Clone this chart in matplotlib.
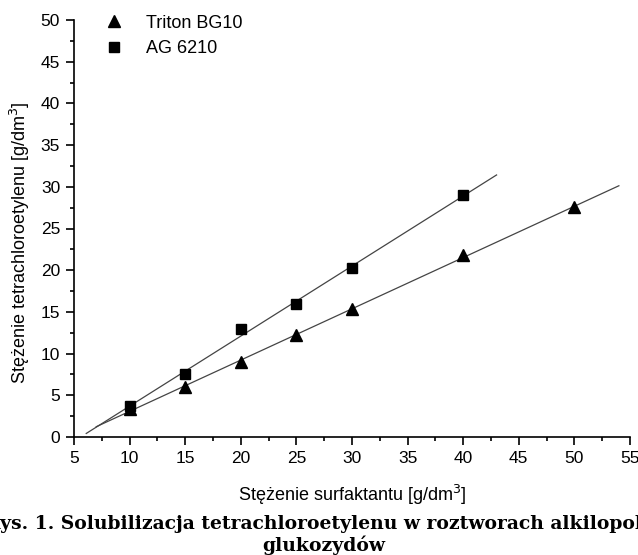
import numpy as np
import matplotlib
matplotlib.use("Agg")
import matplotlib.pyplot as plt
from matplotlib.ticker import MultipleLocator

# Data
triton_x = [10, 15, 20, 25, 30, 40, 50]
triton_y = [3.4, 6.0, 9.0, 12.2, 15.3, 21.8, 27.6]
ag_x = [10, 15, 20, 25, 30, 40]
ag_y = [3.7, 7.5, 13.0, 15.9, 20.3, 29.0]
triton_fit_range = [7.0, 54.0]
ag_fit_range = [6.1, 43.0]

plt.rcParams['font.family'] = ['Liberation Sans', 'DejaVu Sans']

W, H = 638, 555
fig = plt.figure(figsize=(W / 100, H / 100), dpi=100)
ax = fig.add_axes([74 / W, 1 - 437 / H, (630 - 74) / W, (437 - 20) / H])

for xs, ys, rng in [(triton_x, triton_y, triton_fit_range), (ag_x, ag_y, ag_fit_range)]:
    k, b = np.polyfit(xs, ys, 1)
    xx = np.array(rng)
    ax.plot(xx, k * xx + b, color='#444444', lw=0.9, zorder=2)

ax.plot(triton_x, triton_y, linestyle='none', marker='^', color='black', ms=9, label='Triton BG10', zorder=3)
ax.plot(ag_x, ag_y, linestyle='none', marker='s', color='black', ms=7, label='AG 6210', zorder=3)

ax.set_xlim(5, 55)
ax.set_ylim(0, 50)
ax.xaxis.set_major_locator(MultipleLocator(5))
ax.xaxis.set_minor_locator(MultipleLocator(2.5))
ax.yaxis.set_major_locator(MultipleLocator(5))
ax.yaxis.set_minor_locator(MultipleLocator(2.5))
for s in ['top', 'right']:
    ax.spines[s].set_visible(False)
for s in ['left', 'bottom']:
    ax.spines[s].set_linewidth(1.2)
ax.tick_params(which='major', direction='out', length=6, width=1.2, labelsize=12.5, pad=4)
ax.tick_params(which='minor', direction='out', length=3, width=1.2)

ax.set_xlabel('Stężenie surfaktantu [g/dm$^3$]', fontsize=13, labelpad=12)
ax.set_ylabel('Stężenie tetrachloroetylenu [g/dm$^3$]', fontsize=13)
ax.yaxis.set_label_coords(-0.075, 0.465)

leg = ax.legend(loc='upper left', bbox_to_anchor=(0.042, 1.03), frameon=False, fontsize=13,
                handlelength=1.0, handletextpad=1.3, labelspacing=0.45, borderaxespad=0)

fig.text(-15 / W, 26 / H, 'Rys. 1. Solubilizacja tetrachloroetylenu w roztworach alkilopoli-',
         ha='left', va='baseline', fontsize=13.5, fontweight='bold', family=['DejaVu Serif'])
fig.text(324 / W, 4 / H, 'glukozydów', ha='center', va='baseline', fontsize=13.5,
         fontweight='bold', family=['DejaVu Serif'])

fig.savefig('out.png', dpi=100)
